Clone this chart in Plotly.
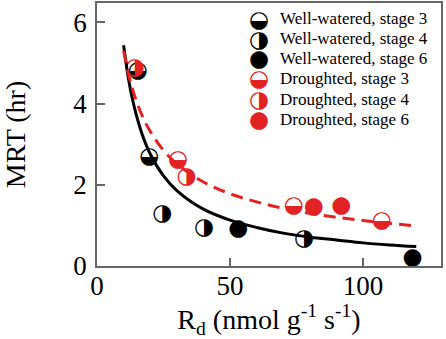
import plotly.graph_objects as go

# ---- data ----
ww3_x = [15.3, 19.7]
ww3_y = [4.81, 2.69]
ww4_x = [24.5, 40.2, 77.8]
ww4_y = [1.28, 0.93, 0.66]
ww6_x = [53.1, 118.6]
ww6_y = [0.90, 0.19]
dr3_x = [30.5, 74.0, 107.0]
dr3_y = [2.61, 1.48, 1.11]
dr4_x = [14.2, 33.7]
dr4_y = [4.88, 2.18]
dr6_x = [81.5, 91.8]
dr6_y = [1.45, 1.46]

# fitted curves
ww_fit_x = [10, 12, 14, 17, 20, 25, 30, 40, 50, 60, 70, 80, 90, 100, 110, 120]
ww_fit_y = [5.44, 4.55, 3.92, 3.24, 2.76, 2.22, 1.86, 1.40, 1.13, 0.95, 0.81, 0.71, 0.64, 0.57, 0.52, 0.48]
dr_fit_x = [10, 12, 14, 17, 20, 25, 30, 40, 50, 60, 70, 80, 90, 100, 110, 120]
dr_fit_y = [5.30, 4.69, 4.22, 3.70, 3.32, 2.85, 2.52, 2.07, 1.78, 1.58, 1.42, 1.30, 1.20, 1.12, 1.05, 0.985]

legend_labels = ["Well-watered, stage 3", "Well-watered, stage 4", "Well-watered, stage 6",
                 "Droughted, stage 3", "Droughted, stage 4", "Droughted, stage 6"]
x_ticks = [0, 50, 100]
y_ticks = [0, 2, 4, 6]

RED = "#E32323"
BLACK = "#000000"
GLYPH_FONT = "DejaVu Sans"
GSIZE = 23

series = [
    (ww3_x, ww3_y, "◒", BLACK),
    (ww4_x, ww4_y, "◑", BLACK),
    (ww6_x, ww6_y, "●", BLACK),
    (dr3_x, dr3_y, "◒", RED),
    (dr4_x, dr4_y, "◑", RED),
    (dr6_x, dr6_y, "●", RED),
]

fig = go.Figure()
for (xs, ys, g, c), name in zip(series, legend_labels):
    fig.add_trace(go.Scatter(
        x=xs, y=ys, mode="text", text=[g] * len(xs), name=name,
        textposition="middle center",
        textfont=dict(family=GLYPH_FONT, size=GSIZE, color=c),
        showlegend=False, cliponaxis=False,
    ))

fig.add_trace(go.Scatter(x=ww_fit_x, y=ww_fit_y, mode="lines", line_shape="spline",
                         line=dict(color=BLACK, width=3), showlegend=False))
fig.add_trace(go.Scatter(x=dr_fit_x, y=dr_fit_y, mode="lines", line_shape="spline",
                         line=dict(color=RED, width=3, dash="12px,7px"), showlegend=False))

# manual legend
row_y = [19, 38.5, 58.5, 78.5, 99.5, 119.5]
annots = []
for (xs, ys, g, c), name, py in zip(series, legend_labels, row_y):
    yp = (266 - py) / 263
    annots.append(dict(xref="paper", yref="paper", x=(259 - 97) / 343, y=yp,
                       text=g, showarrow=False, xanchor="center", yanchor="middle",
                       font=dict(family=GLYPH_FONT, size=GSIZE, color=c)))
    annots.append(dict(xref="paper", yref="paper", x=(277 - 97) / 343, y=yp,
                       text=name, showarrow=False, xanchor="left", yanchor="middle",
                       font=dict(family="Liberation Serif", size=17, color="black")))

axis_common = dict(showline=True, linecolor="#666666", linewidth=1.5, mirror=True,
                   ticks="inside", ticklen=8, tickwidth=1.5, tickcolor="#666666",
                   showgrid=False, zeroline=False, automargin=False,
                   tickfont=dict(family="Liberation Serif", size=27, color="black"))

fig.update_layout(
    template="none",
    width=446, height=339,
    margin=dict(l=97, r=5, t=3, b=73),
    plot_bgcolor="white", paper_bgcolor="white",
    showlegend=False,
    annotations=annots,
    xaxis=dict(range=[0, 129.3], tickvals=x_ticks, ticktext=[str(v) for v in x_ticks],
               ticklabelstandoff=-5,
               title=dict(text="R<sub>d</sub> (nmol g<sup>-1</sup> s<sup>-1</sup>)",
                          font=dict(family="Liberation Serif", size=28, color="black"),
                          standoff=0),
               **axis_common),
    yaxis=dict(range=[0, 6.48], tickvals=y_ticks, ticktext=[str(v) for v in y_ticks],
               ticklabelstandoff=3,
               title=dict(text="MRT (hr)",
                          font=dict(family="Liberation Serif", size=28, color="black"),
                          standoff=46),
               **axis_common),
)

fig.write_html("out.html", config={"displayModeBar": False},
               post_script="document.body.style.margin='0';")
